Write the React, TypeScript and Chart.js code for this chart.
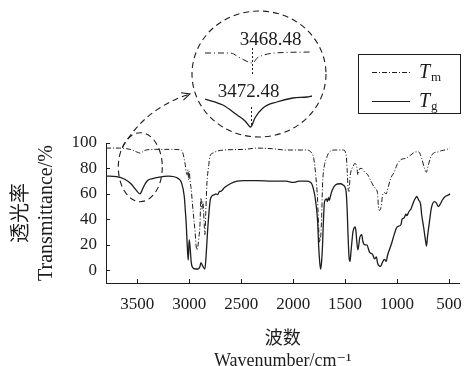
import React, { useEffect, useRef } from "react";
import { Chart, registerables } from "chart.js";
Chart.register(...registerables);

// ---------- data ----------
const tgWn = [3800,3700,3620,3560,3520,3490,3472.48,3455,3430,3400,3350,3300,3200,3104,3075,3047,3038,3028,3019,3009,3000,2991,2981,2972,2943,2915,2896,2887,2868,2849,2840,2821,2802,2792,2755,2745,2726,2708,2698,2660,2604,2538,2472,2349,2200,2066,2000,1943,1877,1830,1802,1783,1764,1755,1745,1736,1726,1717,1708,1698,1679,1670,1660,1651,1642,1623,1594,1547,1519,1491,1481,1472,1462,1453,1443,1434,1425,1415,1406,1396,1387,1377,1358,1340,1330,1311,1292,1264,1236,1217,1198,1189,1160,1142,1123,1104,1094,1057,1028,1000,962,953,934,915,906,887,868,858,840,821,811,792,774,764,745,726,717,708,689,670,642,623,604,585,566,538,509,491];
const tgT = [74,73.5,71.5,68,64,61,60,62.5,67,70.5,72,73,74,72,69,58,48,36,20,8,24,18,7,3,1,1,3,6,3,1,8,33,52,57,59.5,60,59.5,62,62,65,68,70,70.5,70.5,70,70,69,70,70,69,63,54,38,20,7,1,7,20,40,54,56,54,57,55,58,63,67,68,67,62,49,28,10,7,15,23,30,33,34,31,22,16,26,28,23,20,20,14,12.5,9,10.5,6,3,6,8.6,7,11,20,28,34,36,40,41,44,43,46,48,50,54,57,58,55,52,44,34,23,19,26,38,49,54,53,50,52,55,58,59,60];

const tmWn = [3800,3670,3600,3547,3505,3468.48,3440,3415,3321,3170,3075,3057,3038,3028,3019,3012,3005,3000,2991,2981,2962,2943,2934,2925,2906,2896,2887,2877,2868,2858,2849,2840,2830,2811,2802,2774,2660,2472,2349,2200,2066,1877,1830,1802,1783,1764,1755,1745,1736,1726,1717,1698,1679,1660,1594,1519,1491,1481,1472,1462,1453,1434,1425,1406,1387,1377,1358,1340,1311,1282,1245,1217,1189,1179,1170,1151,1142,1123,1104,1094,1057,1028,1000,962,915,868,821,792,764,736,717,708,680,651,604,575,538,491];
const tmT = [96,96,95.5,94.5,93,92,93.5,94.5,95,95,94.5,91,83,77,75,79,71,78,70,64,46,30,20,16,26,36,57,48,54,41,28,46,67,83,89,92,94.5,95,96,95.5,94.5,94.5,93,88,75,54,34,22,25,41,67,83,88,92,94.5,94.5,91,80,65,62,73,80,81,84,81,75,80,80,77,75,69,65,61,50,47,51,58,61,60,63,73,77,83,87,88,90.6,93,93,88,80,77,80,88,92,93,94,94.5,96];

// magnified inset (arbitrary vertical units)
const insetWnM = [3575,3519,3496,3483,3468.48,3458,3443,3418,3335];
const insetTm = [77,77,72,69,67,72,75,77,78];
const insetWnG = [3575,3535,3503,3485,3472.48,3463,3445,3414,3378,3346,3335];
const insetTg = [31,25,15,9,3,12,22,28,32,33,34];
const peakM = 3468.48;
const peakG = 3472.48;

const xTicks = [3500,3000,2500,2000,1500,1000,500];
const yTicks = [0,20,40,60,80,100];
const seriesNames = ["Tm", "Tg"];
const seriesSubs = ["m", "g"];

// ---------- style ----------
const INK = "#1c1c1c";
const SERIF = '"Liberation Serif", "DejaVu Serif", "Noto Sans CJK SC", serif';
const DASHDOT = [5, 2, 1, 2];

const toPts = (xs: number[], ys: number[]) => xs.map((x, i) => ({ x, y: ys[i] }));

const annotate = {
  id: "annotate",
  afterDraw(chart: any) {
    const { ctx, chartArea, scales } = chart;
    const x = scales.x, y = scales.y;
    ctx.save();
    ctx.strokeStyle = INK;
    ctx.fillStyle = INK;
    ctx.lineWidth = 1;
    // inward tick marks
    xTicks.forEach((v) => {
      const px = Math.round(x.getPixelForValue(v)) + 0.5;
      ctx.beginPath();
      ctx.moveTo(px, chartArea.bottom);
      ctx.lineTo(px, chartArea.bottom - 4);
      ctx.stroke();
    });
    yTicks.forEach((v) => {
      const py = Math.round(y.getPixelForValue(v)) + 0.5;
      ctx.beginPath();
      ctx.moveTo(chartArea.left, py);
      ctx.lineTo(chartArea.left + 4, py);
      ctx.stroke();
    });

    // dashed ellipse around the 3470 band
    const ex = x.getPixelForValue(3470);
    const ey = y.getPixelForValue(81);
    ctx.setLineDash([6, 4]);
    ctx.lineWidth = 1.1;
    ctx.beginPath();
    ctx.ellipse(ex, ey, 22, 34.5, 0, 0, Math.PI * 2);
    ctx.stroke();

    // large dashed circle of the inset
    ctx.beginPath();
    ctx.ellipse(259, 74, 67, 63, 0, 0, Math.PI * 2);
    ctx.stroke();

    // dashed arrow
    const sx = ex - 18, sy = ey - 19.5;
    const cx = 145, cy = 108, tx = 190, ty = 94;
    ctx.beginPath();
    ctx.moveTo(sx, sy);
    ctx.quadraticCurveTo(cx, cy, tx, ty);
    ctx.stroke();
    ctx.setLineDash([]);
    const ang = Math.atan2(ty - cy, tx - cx);
    const L = 9;
    ctx.beginPath();
    ctx.moveTo(tx - L * Math.cos(ang - 0.45), ty - L * Math.sin(ang - 0.45));
    ctx.lineTo(tx, ty);
    ctx.lineTo(tx - L * Math.cos(ang + 0.45), ty - L * Math.sin(ang + 0.45));
    ctx.stroke();

    // legend box
    ctx.lineWidth = 1;
    ctx.strokeRect(358.5, 54.5, 102, 59);
    const rows = [72, 101];
    rows.forEach((ry, i) => {
      ctx.beginPath();
      ctx.setLineDash(i === 0 ? DASHDOT : []);
      ctx.moveTo(372, ry + 0.5);
      ctx.lineTo(410, ry + 0.5);
      ctx.stroke();
      ctx.setLineDash([]);
      ctx.textAlign = "left";
      ctx.textBaseline = "alphabetic";
      ctx.font = 'italic 20px "Liberation Serif", serif';
      ctx.fillText(seriesNames[i].charAt(0), 419, ry + 6);
      ctx.font = '13px "Liberation Serif", serif';
      ctx.fillText(seriesSubs[i], 431, ry + 9);
    });
    ctx.restore();
  },
};

const insetLabels = {
  id: "insetLabels",
  afterDraw(chart: any) {
    const { ctx, scales } = chart;
    const x = scales.x, y = scales.y;
    ctx.save();
    ctx.strokeStyle = INK;
    ctx.fillStyle = INK;
    ctx.lineWidth = 1;
    ctx.setLineDash([2, 2]);
    const pm = Math.round(x.getPixelForValue(peakM)) + 0.5;
    ctx.beginPath();
    ctx.moveTo(pm, y.getPixelForValue(82));
    ctx.lineTo(pm, y.getPixelForValue(55));
    ctx.stroke();
    const pg = Math.round(x.getPixelForValue(peakG)) + 0.5;
    ctx.beginPath();
    ctx.moveTo(pg, y.getPixelForValue(23));
    ctx.lineTo(pg, y.getPixelForValue(3));
    ctx.stroke();
    ctx.setLineDash([]);
    ctx.font = '19px "Liberation Serif", serif';
    ctx.textAlign = "center";
    ctx.textBaseline = "middle";
    ctx.fillText(peakM.toFixed(2), pm + 18, 40);
    ctx.fillText(peakG.toFixed(2), pg - 3, 92);
    ctx.restore();
  },
};

export default function App() {
  const mainRef = useRef<HTMLCanvasElement>(null);
  const insetRef = useRef<HTMLCanvasElement>(null);

  useEffect(() => {
    const main = new Chart(mainRef.current as HTMLCanvasElement, {
      type: "line",
      data: {
        datasets: [
          {
            label: seriesNames[0],
            data: toPts(tmWn, tmT),
            borderColor: INK,
            borderWidth: 1,
            borderDash: DASHDOT,
            pointRadius: 0,
            fill: false,
            cubicInterpolationMode: "monotone",
          },
          {
            label: seriesNames[1],
            data: toPts(tgWn, tgT),
            borderColor: INK,
            borderWidth: 1.3,
            pointRadius: 0,
            fill: false,
            cubicInterpolationMode: "monotone",
          },
        ],
      },
      options: {
        responsive: false,
        animation: false,
        devicePixelRatio: 1,
        events: [],
        layout: { padding: { top: 143, right: 6, left: 0, bottom: 0 } },
        plugins: { legend: { display: false }, tooltip: { enabled: false } },
        scales: {
          x: {
            type: "linear",
            reverse: true,
            min: 400,
            max: 3800,
            grid: { display: false, drawTicks: false },
            border: { display: true, color: INK, width: 1 },
            afterBuildTicks: (s: any) => {
              s.ticks = xTicks.map((v) => ({ value: v }));
            },
            afterFit: (s: any) => {
              s.height = 83;
            },
            ticks: {
              color: INK,
              padding: 11,
              maxRotation: 0,
              autoSkip: false,
              font: { family: SERIF, size: 17 },
              callback: (v: any) => String(v),
            },
            title: {
              display: true,
              text: ["波数", "Wavenumber/cm⁻¹"],
              color: INK,
              font: { family: SERIF, size: 18, lineHeight: 22 / 18 },
              padding: { top: 0, bottom: -6 },
            },
          },
          y: {
            type: "linear",
            min: -10,
            max: 100,
            grid: { display: false, drawTicks: false },
            border: { display: true, color: INK, width: 1 },
            afterBuildTicks: (s: any) => {
              s.ticks = yTicks.map((v) => ({ value: v }));
            },
            afterFit: (s: any) => {
              s.width = 106;
            },
            ticks: {
              color: INK,
              padding: 9,
              font: { family: SERIF, size: 17 },
            },
            title: {
              display: true,
              text: ["透光率", "Transmittance/%"],
              color: INK,
              font: { family: SERIF, size: 20, lineHeight: 1.25 },
              padding: { top: 9, bottom: 0 },
            },
          },
        },
      },
      plugins: [annotate],
    } as any);

    const inset = new Chart(insetRef.current as HTMLCanvasElement, {
      type: "line",
      data: {
        datasets: [
          {
            label: seriesNames[0],
            data: toPts(insetWnM, insetTm),
            borderColor: INK,
            borderWidth: 1,
            borderDash: [6, 3, 1, 3],
            pointRadius: 0,
            cubicInterpolationMode: "monotone",
          },
          {
            label: seriesNames[1],
            data: toPts(insetWnG, insetTg),
            borderColor: INK,
            borderWidth: 1.3,
            pointRadius: 0,
            cubicInterpolationMode: "monotone",
          },
        ],
      },
      options: {
        responsive: false,
        animation: false,
        devicePixelRatio: 1,
        events: [],
        layout: { padding: { left: 15, right: 28, top: 30, bottom: 10 } },
        plugins: { legend: { display: false }, tooltip: { enabled: false } },
        scales: {
          x: { type: "linear", reverse: true, min: 3335, max: 3575, display: false },
          y: { type: "linear", min: 0, max: 100, display: false },
        },
      },
      plugins: [insetLabels],
    } as any);

    return () => {
      main.destroy();
      inset.destroy();
    };
  }, []);

  return (
    <div style={{ position: "fixed", left: 0, top: 0, width: 473, height: 366, background: "#fff" }}>
      <canvas ref={mainRef} width={473} height={366} style={{ position: "absolute", left: 0, top: 0 }} />
      <canvas
        ref={insetRef}
        width={150}
        height={140}
        style={{ position: "absolute", left: 190, top: 0, pointerEvents: "none" }}
      />
    </div>
  );
}
